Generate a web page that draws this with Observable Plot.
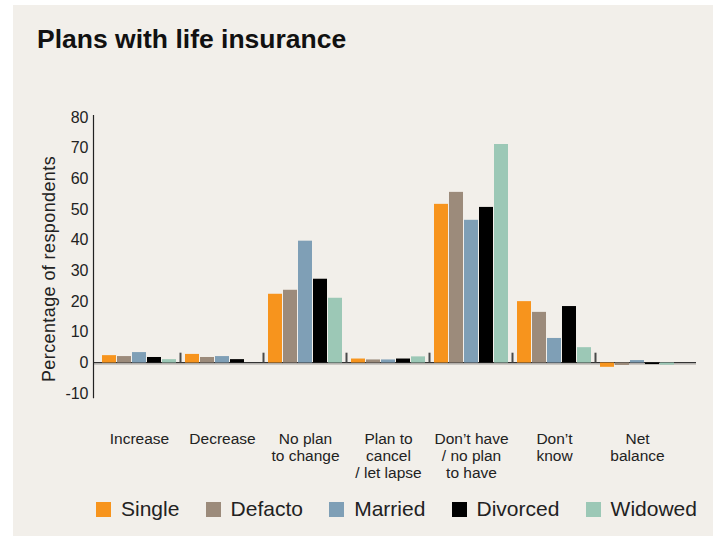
<!DOCTYPE html>
<html>
<head>
<meta charset="utf-8">
<script src="https://cdn.jsdelivr.net/npm/d3@7"></script>
<script src="https://cdn.jsdelivr.net/npm/@observablehq/plot@0.6"></script>
<style>
  html, body { margin: 0; padding: 0; background: #ffffff; }
  body { width: 716px; height: 536px; position: relative; overflow: hidden; font-family: "Liberation Sans", Arial, sans-serif; color: #222; }
  #panel { position: absolute; left: 13px; top: 5px; width: 700px; height: 531px; background: #f2efea; }
  #title { position: absolute; left: 37px; top: 26px; font-size: 26.5px; line-height: 26.5px; font-weight: bold; color: #111; white-space: nowrap; }
  #chart { position: absolute; left: 0; top: 0; }
  #ylabel { position: absolute; left: 49px; top: 269px; transform: translate(-50%, -50%) rotate(-90deg); font-size: 18px; letter-spacing: 0.4px; line-height: 18px; white-space: nowrap; color: #222; }
  #legend { position: absolute; left: 96px; top: 501px; width: 601px; height: 16px; display: flex; justify-content: space-between; align-items: center; }
  .item { display: flex; align-items: center; height: 16px; }
  .sw { width: 15px; height: 15px; margin-right: 10px; }
  .lab { font-size: 21px; line-height: 16px; color: #222; white-space: nowrap; }
</style>
</head>
<body>
<div id="panel"></div>
<div id="title">Plans with life insurance</div>
<div id="chart"></div>
<div id="ylabel">Percentage of respondents</div>
<div id="legend"></div>
<script>
const categories = ["Increase", "Decrease", "No plan\nto change", "Plan to\ncancel\n/ let lapse", "Don’t have\n/ no plan\nto have", "Don’t\nknow", "Net\nbalance"];
const statuses = ["Single", "Defacto", "Married", "Divorced", "Widowed"];
const colors = ["#f7941d", "#9c8b7b", "#7f9fb6", "#000000", "#9cc8b6"];
const single   = [2.4, 2.8, 22.4, 1.3, 51.7, 20.0, -1.4];
const defacto  = [2.1, 1.8, 23.7, 1.0, 55.6, 16.5, -0.8];
const married  = [3.4, 2.1, 39.7, 1.0, 46.5, 8.0, 0.8];
const divorced = [1.8, 1.1, 27.3, 1.3, 50.7, 18.4, -0.5];
const widowed  = [1.1, 0.0, 21.1, 2.0, 71.2, 5.0, -0.7];
const yTicks = [-10, 0, 10, 20, 30, 40, 50, 60, 70, 80];

const series = [single, defacto, married, divorced, widowed];
const rows = [];
statuses.forEach((s, i) => categories.forEach((c, j) => rows.push({category: c, status: s, value: series[i][j]})));

const nS = statuses.length;
const subW = 15;

const chart = Plot.plot({
  width: 716,
  height: 490,
  marginTop: 117,
  marginBottom: 96.8,
  marginLeft: 93,
  marginRight: 32,
  style: {background: "transparent", fontFamily: "'Liberation Sans', Arial, sans-serif", color: "#222", overflow: "visible"},
  x: {domain: categories, paddingInner: 0.107, paddingOuter: 0.0714, align: 0.5, axis: null},
  y: {domain: [-10, 80], axis: null},
  marks: [
    Plot.ruleY([0], {stroke: "#cbc8c3", strokeWidth: 1.6, dy: 1.3, insetRight: -12}),
    Plot.ruleY([0], {stroke: "#333333", strokeWidth: 1.2, dy: -0.4, insetRight: -12}),
    ...statuses.map((s, i) => Plot.barY(rows.filter(r => r.status === s), {
      x: "category", y: "value", fill: colors[i],
      insetLeft: i * subW, insetRight: (nS - 1 - i) * subW
    })),
    Plot.ruleX(categories.slice(1), {y1: 0, y2: 3.2, stroke: "#4a4a4a", strokeWidth: 2, dx: -42}),
    Plot.frame({anchor: "left", stroke: "#222", strokeWidth: 1.2, insetTop: -2, insetBottom: -4}),
    Plot.axisY({ticks: yTicks, tickSize: 0, tickPadding: 5, fontSize: 16, label: null, tickFormat: d => String(d)}),
    Plot.axisX({tickSize: 0, tickPadding: 38, fontSize: 15.5, lineHeight: 1.1, label: null})
  ]
});
document.getElementById("chart").appendChild(chart);

const legend = document.getElementById("legend");
statuses.forEach((s, i) => {
  const it = document.createElement("div");
  it.className = "item";
  const sw = document.createElement("div");
  sw.className = "sw";
  sw.style.background = colors[i];
  const lab = document.createElement("span");
  lab.className = "lab";
  lab.textContent = s;
  it.appendChild(sw);
  it.appendChild(lab);
  legend.appendChild(it);
});
</script>
</body>
</html>
